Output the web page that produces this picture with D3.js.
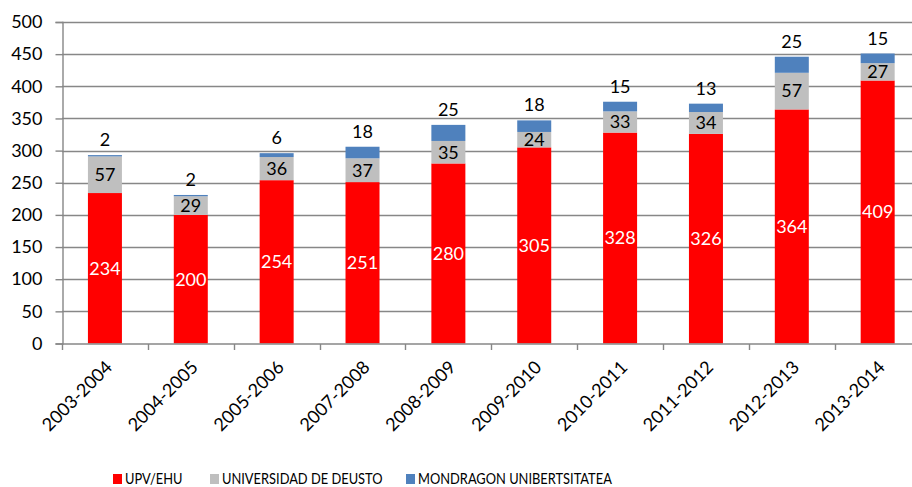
<!DOCTYPE html>
<html>
<head>
<meta charset="utf-8">
<script src="https://cdn.jsdelivr.net/npm/d3@7"></script>
<style>
  body { margin: 0; background: #fff; }
  svg { font-family: Lato, "Open Sans", sans-serif; }
</style>
</head>
<body>
<div id="chart"></div>
<script>
// categories and series
var years = ["2003-2004", "2004-2005", "2005-2006", "2007-2008", "2008-2009",
  "2009-2010", "2010-2011", "2011-2012", "2012-2013", "2013-2014"];
var upv = [234, 200, 254, 251, 280, 305, 328, 326, 364, 409];
var deusto = [57, 29, 36, 37, 35, 24, 33, 34, 57, 27];
var mondragon = [2, 2, 6, 18, 25, 18, 15, 13, 25, 15];
var seriesNames = ["UPV/EHU", "UNIVERSIDAD DE DEUSTO", "MONDRAGON UNIBERTSITATEA"];
var yTicks = d3.range(0, 501, 50);

var width = 912, height = 487;
var colors = ["#ff0000", "#bfbfbf", "#4f81bd"];
var gridColor = "#878787";

var svg = d3.select("#chart").append("svg")
  .attr("width", width)
  .attr("height", height);

var x = d3.scaleBand()
  .domain(years)
  .range([62, 920.6]);

var y = d3.scaleLinear()
  .domain([0, 500])
  .range([343.5, 22]);

// build rows for stacking
var rows = years.map(function(yr, i) {
  return { year: yr, a: upv[i], b: deusto[i], c: mondragon[i] };
});
var stack = d3.stack().keys(["a", "b", "c"]);
var layers = stack(rows);

// gridlines
svg.append("g")
  .selectAll("line")
  .data(yTicks.slice(1))
  .enter()
  .append("line")
  .attr("x1", 62)
  .attr("x2", width)
  .attr("y1", function(d) { return Math.round(y(d)) + 0.5; })
  .attr("y2", function(d) { return Math.round(y(d)) + 0.5; })
  .style("stroke", gridColor)
  .style("stroke-width", 1.4);

// y axis
var yAxis = svg.append("g")
  .attr("transform", "translate(62.5,0)")
  .call(d3.axisLeft(y).tickValues(yTicks).tickSize(7).tickPadding(13));
yAxis.select(".domain").style("stroke", gridColor).style("stroke-width", 1.4);
yAxis.selectAll(".tick line").style("stroke", gridColor).style("stroke-width", 1.4);
yAxis.selectAll(".tick text")
  .style("font-size", "18px")
  .style("font-family", "Lato, sans-serif")
  .style("fill", "#000");

// bars
var barW = 34;
var groups = svg.append("g")
  .selectAll("g")
  .data(layers)
  .enter()
  .append("g")
  .style("fill", function(d, i) { return colors[i]; });

groups.selectAll("rect")
  .data(function(d) { return d; })
  .enter()
  .append("rect")
  .attr("x", function(d) { return x(d.data.year) + x.bandwidth() / 2 - barW / 2; })
  .attr("width", barW)
  .attr("y", function(d) { return y(d[1]); })
  .attr("height", function(d) { return y(d[0]) - y(d[1]); });

// x axis
var xAxis = svg.append("g")
  .attr("transform", "translate(0," + 344 + ")");
xAxis.append("line")
  .attr("x1", 62).attr("x2", width)
  .style("stroke", gridColor).style("stroke-width", 1.4);
xAxis.selectAll("line.tk")
  .data(years.concat(["end"]))
  .enter()
  .append("line")
  .attr("class", "tk")
  .attr("x1", function(d, i) { return Math.round(62 + i * x.bandwidth()) + 0.5; })
  .attr("x2", function(d, i) { return Math.round(62 + i * x.bandwidth()) + 0.5; })
  .attr("y1", 0).attr("y2", 6)
  .style("stroke", gridColor).style("stroke-width", 1.4);
xAxis.selectAll("text")
  .data(years)
  .enter()
  .append("text")
  .attr("transform", function(d) {
    return "translate(" + (x(d) + x.bandwidth() / 2 + 4) + ",20) rotate(-45)";
  })
  .attr("text-anchor", "end")
  .attr("dy", "0.35em")
  .style("font-size", "18px")
  .text(function(d) { return d; });

// value labels
var labels = svg.append("g").style("font-size", "18px").attr("text-anchor", "middle");
layers.forEach(function(layer, k) {
  labels.selectAll("text.l" + k)
    .data(layer)
    .enter()
    .append("text")
    .attr("class", "l" + k)
    .attr("x", function(d) { return x(d.data.year) + x.bandwidth() / 2; })
    .attr("y", function(d) {
      if (k == 2) return y(d[1]) - 9;
      return (y(d[0]) + y(d[1])) / 2;
    })
    .attr("dy", k == 2 ? "0" : "0.35em")
    .style("fill", k == 0 ? "#fff" : "#000")
    .text(function(d) { return d[1] - d[0]; });
});

// legend
var legendX = [113, 210, 406];
var legend = svg.append("g")
  .selectAll("g")
  .data(seriesNames)
  .enter()
  .append("g")
  .attr("transform", function(d, i) { return "translate(" + legendX[i] + ",474)"; });
legend.append("rect")
  .attr("width", 9).attr("height", 10)
  .style("fill", function(d, i) { return colors[i]; });
// squeeze text horizontally a bit, the original font is narrow
legend.append("text")
  .attr("transform", "translate(12,5) scale(0.83,1)")
  .attr("dy", "0.35em")
  .style("font-size", "15.5px")
  .text(function(d) { return d; });
</script>
</body>
</html>
